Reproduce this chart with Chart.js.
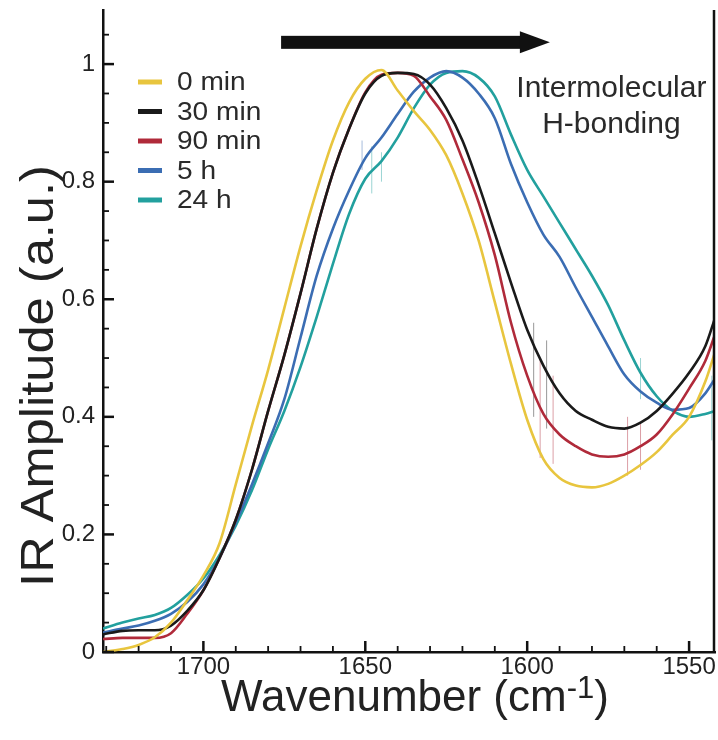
<!DOCTYPE html>
<html>
<head>
<meta charset="utf-8">
<script src="https://cdn.jsdelivr.net/npm/chart.js@4.4.0/dist/chart.umd.min.js"></script>
<style>
  html, body { margin: 0; padding: 0; background: #fff; }
</style>
</head>
<body>
<canvas id="chart" width="718" height="740"></canvas>
<script>
// Wavenumber grid (cm-1)
const wavenumbers = [1731, 1725, 1720, 1715, 1710, 1705, 1700, 1695, 1690, 1685, 1680, 1675, 1670,
  1665, 1660, 1655, 1650, 1645, 1640, 1635, 1630, 1625, 1620, 1615, 1610, 1605, 1600, 1595, 1590,
  1585, 1580, 1575, 1570, 1565, 1560, 1555, 1550, 1545, 1542];

const seriesLabels = ['0 min', '30 min', '90 min', '5 h', '24 h'];
const seriesColors = ['#e8c53e', '#1a1a1a', '#b02a3a', '#3b6db3', '#22a09e'];

const amp0min = [0.0, 0.005, 0.012, 0.025, 0.05, 0.088, 0.13, 0.185, 0.285, 0.385, 0.48, 0.585, 0.69,
  0.785, 0.87, 0.935, 0.975, 0.99, 0.955, 0.92, 0.888, 0.845, 0.78, 0.70, 0.595, 0.49, 0.395, 0.328, 0.296,
  0.283, 0.28, 0.286, 0.30, 0.318, 0.34, 0.37, 0.40, 0.46, 0.51];
const amp30min = [0.03, 0.036, 0.037, 0.037, 0.045, 0.07, 0.105, 0.16, 0.225, 0.31, 0.41, 0.505, 0.61,
  0.72, 0.815, 0.89, 0.95, 0.98, 0.985, 0.983, 0.965, 0.925, 0.87, 0.795, 0.712, 0.628, 0.548, 0.487, 0.44,
  0.41, 0.395, 0.383, 0.38, 0.39, 0.41, 0.44, 0.475, 0.52, 0.568];
const amp90min = [0.022, 0.024, 0.024, 0.024, 0.032, 0.065, 0.105, 0.16, 0.225, 0.31, 0.41, 0.505, 0.61,
  0.72, 0.815, 0.89, 0.952, 0.982, 0.985, 0.98, 0.945, 0.905, 0.838, 0.765, 0.675, 0.56, 0.47, 0.405, 0.37,
  0.35, 0.336, 0.332, 0.336, 0.35, 0.37, 0.405, 0.448, 0.495, 0.54];
const amp5h = [0.033, 0.04, 0.045, 0.053, 0.065, 0.085, 0.115, 0.16, 0.22, 0.285, 0.355, 0.43, 0.535,
  0.64, 0.72, 0.785, 0.84, 0.875, 0.915, 0.953, 0.977, 0.988, 0.977, 0.95, 0.908, 0.83, 0.765, 0.71, 0.672,
  0.62, 0.57, 0.52, 0.472, 0.443, 0.424, 0.412, 0.415, 0.44, 0.465];
const amp24h = [0.04, 0.05, 0.057, 0.063, 0.075, 0.097, 0.125, 0.165, 0.215, 0.275, 0.345, 0.41, 0.485,
  0.57, 0.66, 0.745, 0.805, 0.835, 0.875, 0.925, 0.965, 0.985, 0.988, 0.977, 0.945, 0.88, 0.82, 0.775, 0.73,
  0.685, 0.64, 0.59, 0.53, 0.475, 0.435, 0.41, 0.40, 0.405, 0.41];
const seriesValues = [amp0min, amp30min, amp90min, amp5h, amp24h];

// faint vertical error spikes: series index, wavenumber, low, high
const spikeSeries = [1, 1, 2, 2, 2, 2, 3, 4, 4, 4, 4];
const spikeWn = [1598, 1594, 1596, 1592, 1569, 1565, 1651, 1648, 1645, 1565, 1543];
const spikeLow = [0.40, 0.38, 0.33, 0.32, 0.30, 0.31, 0.82, 0.78, 0.80, 0.43, 0.36];
const spikeHigh = [0.56, 0.53, 0.50, 0.47, 0.40, 0.39, 0.87, 0.86, 0.85, 0.50, 0.47];

const xTickValues = [1700, 1650, 1600, 1550];
const yTickValues = [0, 0.2, 0.4, 0.6, 0.8, 1];

// arrow + annotation in data coordinates
const arrowFrom = 1676;
const arrowTo = 1593;
const arrowLevel = 1.037;
const noteLines = ['Intermolecular', 'H-bonding'];
const noteWn = 1574;
const noteLevels = [0.958, 0.896];

const FONT = '"Liberation Sans", Arial, Helvetica, sans-serif';

const framePlugin = {
  id: 'frame',
  beforeDatasetsDraw(chart) {
    const { ctx, scales: { x, y } } = chart;
    ctx.save();
    ctx.lineWidth = 1;
    ctx.globalAlpha = 0.45;
    spikeWn.forEach((w, i) => {
      ctx.strokeStyle = seriesColors[spikeSeries[i]];
      const px = x.getPixelForValue(w);
      ctx.beginPath();
      ctx.moveTo(px, y.getPixelForValue(spikeLow[i]));
      ctx.lineTo(px, y.getPixelForValue(spikeHigh[i]));
      ctx.stroke();
    });
    ctx.restore();
  },
  afterDraw(chart) {
    const { ctx, chartArea: a, scales: { x, y } } = chart;
    ctx.save();
    ctx.strokeStyle = '#111';
    ctx.lineCap = 'butt';

    // right frame line
    ctx.lineWidth = 2.5;
    ctx.beginPath();
    ctx.moveTo(a.right - 1, a.top);
    ctx.lineTo(a.right - 1, a.bottom);
    ctx.stroke();

    // inward ticks, x
    for (let v = 1540; v <= 1730; v += 10) {
      if (v < x.min || v > x.max) continue;
      const major = xTickValues.includes(v);
      const px = x.getPixelForValue(v);
      ctx.lineWidth = major ? 2.5 : 1.8;
      ctx.beginPath();
      ctx.moveTo(px, a.bottom);
      ctx.lineTo(px, a.bottom - (major ? 11 : 6));
      ctx.stroke();
    }
    // inward ticks, y
    for (let k = 0; k <= 21; k++) {
      const v = k * 0.05;
      if (v > y.max) continue;
      const major = k % 4 === 0;
      const py = y.getPixelForValue(v);
      ctx.lineWidth = major ? 2.5 : 1.8;
      ctx.beginPath();
      ctx.moveTo(a.left, py);
      ctx.lineTo(a.left + (major ? 11 : 6), py);
      ctx.stroke();
    }

    // arrow
    const ax0 = x.getPixelForValue(arrowFrom);
    const ax1 = x.getPixelForValue(arrowTo);
    const ay = y.getPixelForValue(arrowLevel);
    ctx.fillStyle = '#111';
    ctx.fillRect(ax0, ay - 6.5, ax1 - 28 - ax0, 13);
    ctx.beginPath();
    ctx.moveTo(ax1 - 30, ay - 11);
    ctx.lineTo(ax1, ay);
    ctx.lineTo(ax1 - 30, ay + 11);
    ctx.closePath();
    ctx.fill();

    // annotation text
    ctx.fillStyle = '#2a2a2a';
    ctx.font = '30px ' + FONT;
    ctx.textAlign = 'center';
    ctx.textBaseline = 'middle';
    noteLines.forEach((t, i) => {
      ctx.fillText(t, x.getPixelForValue(noteWn), y.getPixelForValue(noteLevels[i]));
    });

    // legend
    ctx.font = '26px ' + FONT;
    ctx.textAlign = 'left';
    chart.data.datasets.forEach((ds, i) => {
      const ly = a.top + 72 + i * 29.5;
      ctx.strokeStyle = ds.borderColor;
      ctx.lineWidth = 5;
      ctx.beginPath();
      ctx.moveTo(a.left + 35, ly);
      ctx.lineTo(a.left + 59, ly);
      ctx.stroke();
      ctx.fillStyle = '#2a2a2a';
      ctx.save();
      ctx.translate(a.left + 74, ly + 1);
      ctx.scale(1.08, 1);
      ctx.fillText(ds.label, 0, 0);
      ctx.restore();
    });

    // axis titles
    ctx.fillStyle = '#222';
    ctx.font = '46px ' + FONT;
    ctx.textAlign = 'center';
    ctx.save();
    ctx.translate(40, 376);
    ctx.rotate(-Math.PI / 2);
    ctx.scale(1.1, 1);
    ctx.fillText('IR Amplitude (a.u.)', 0, 0);
    ctx.restore();

    const base = 'Wavenumber (cm';
    const sup = '-1';
    const close = ')';
    ctx.font = '44px ' + FONT;
    const w1 = ctx.measureText(base).width;
    const w3 = ctx.measureText(close).width;
    ctx.font = '31px ' + FONT;
    const w2 = ctx.measureText(sup).width;
    let tx = (a.left + a.right) / 2 + 6 - (w1 + w2 + w3) / 2;
    const ty = 699;
    ctx.textAlign = 'left';
    ctx.font = '44px ' + FONT;
    ctx.fillText(base, tx, ty);
    ctx.font = '31px ' + FONT;
    ctx.fillText(sup, tx + w1, ty - 10);
    ctx.font = '44px ' + FONT;
    ctx.fillText(close, tx + w1 + w2, ty);
    ctx.restore();
  }
};

const datasets = seriesLabels.map((label, i) => ({
  label: label,
  data: wavenumbers.map((w, j) => ({ x: w, y: seriesValues[i][j] })),
  borderColor: seriesColors[i],
  borderWidth: 2.6,
  pointRadius: 0,
  cubicInterpolationMode: 'monotone',
  fill: false
}));

const chart = new Chart(document.getElementById('chart'), {
  type: 'line',
  data: { datasets: datasets },
  options: {
    responsive: false,
    animation: false,
    layout: { padding: { top: 10, right: 3, left: 0, bottom: 0 } },
    plugins: { legend: { display: false }, tooltip: { enabled: false } },
    scales: {
      x: {
        type: 'linear',
        reverse: true,
        min: 1542,
        max: 1731,
        grid: { display: false, drawTicks: false },
        border: { display: true, color: '#111', width: 2.5 },
        ticks: { color: '#222', padding: 1, font: { size: 24, family: FONT }, callback: v => String(v) },
        afterBuildTicks: s => { s.ticks = xTickValues.map(v => ({ value: v })); },
        afterFit: s => { s.height = 88; s.paddingLeft = 0; s.paddingRight = 0; }
      },
      y: {
        min: 0,
        max: 1.092,
        grid: { display: false, drawTicks: false },
        border: { display: true, color: '#111', width: 2.5 },
        ticks: { color: '#222', padding: 8, font: { size: 24, family: FONT }, callback: v => String(v) },
        afterBuildTicks: s => { s.ticks = yTickValues.map(v => ({ value: v })); },
        afterFit: s => { s.width = 103; s.paddingTop = 0; s.paddingBottom = 0; }
      }
    }
  },
  plugins: [framePlugin]
});
</script>
</body>
</html>
